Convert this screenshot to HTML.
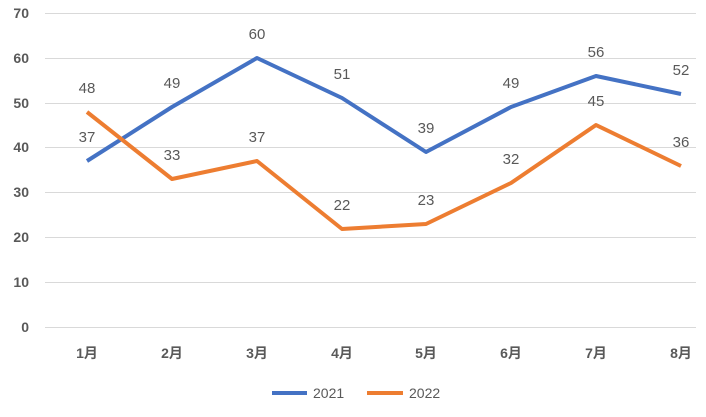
<!DOCTYPE html>
<html><head><meta charset="utf-8"><style>
body{margin:0;background:#fff}
text{font-family:"Liberation Sans","Noto Sans CJK SC",sans-serif;fill:#595959}
</style></head><body>
<svg width="706" height="412" xmlns="http://www.w3.org/2000/svg">
<g stroke="#d9d9d9" stroke-width="1">
<line x1="45" x2="696" y1="13.5" y2="13.5"/><line x1="45" x2="696" y1="58.5" y2="58.5"/>
<line x1="45" x2="696" y1="103.5" y2="103.5"/><line x1="45" x2="696" y1="147.5" y2="147.5"/>
<line x1="45" x2="696" y1="192.5" y2="192.5"/><line x1="45" x2="696" y1="237.5" y2="237.5"/>
<line x1="45" x2="696" y1="282.5" y2="282.5"/><line x1="45" x2="696" y1="327.5" y2="327.5"/>
</g>
<g font-size="14" font-weight="bold" text-anchor="end">
<text x="29" y="18">70</text><text x="29" y="63">60</text><text x="29" y="108">50</text>
<text x="29" y="152">40</text><text x="29" y="197">30</text><text x="29" y="242">20</text>
<text x="29" y="287">10</text><text x="29" y="332">0</text>
</g>
<g font-size="14" font-weight="bold" text-anchor="middle">
<text x="87" y="358">1月</text><text x="172" y="358">2月</text><text x="257" y="358">3月</text>
<text x="342" y="358">4月</text><text x="426" y="358">5月</text><text x="511" y="358">6月</text>
<text x="596" y="358">7月</text><text x="681" y="358">8月</text>
</g>
<polyline fill="none" stroke="#4472c4" stroke-width="4" stroke-linejoin="round" points="87,161 172,107 257,58 342,98 426,152 511,107 596,76 681,94"/>
<polyline fill="none" stroke="#ed7d31" stroke-width="4" stroke-linejoin="round" points="87,112 172,179 257,161 342,229 426,224 511,183 596,125 681,166"/>
<g font-size="15" text-anchor="middle">
<text x="87" y="142">37</text><text x="172" y="88">49</text><text x="257" y="39">60</text>
<text x="342" y="79">51</text><text x="426" y="133">39</text><text x="511" y="88">49</text>
<text x="596" y="57">56</text><text x="681" y="75">52</text>
<text x="87" y="93">48</text><text x="172" y="160">33</text><text x="257" y="142">37</text>
<text x="342" y="210">22</text><text x="426" y="205">23</text><text x="511" y="164">32</text>
<text x="596" y="106">45</text><text x="681" y="147">36</text>
</g>
<line x1="272" x2="307" y1="393" y2="393" stroke="#4472c4" stroke-width="4"/>
<text x="313" y="398" font-size="14">2021</text>
<line x1="367" x2="403" y1="393" y2="393" stroke="#ed7d31" stroke-width="4"/>
<text x="409" y="398" font-size="14">2022</text>
</svg>
</body></html>
